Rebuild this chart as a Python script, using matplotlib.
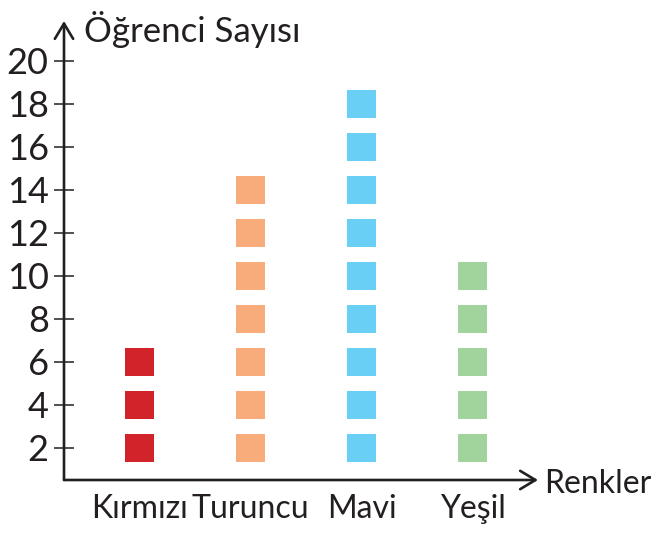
import matplotlib
matplotlib.use("Agg")
import matplotlib.pyplot as plt

categories = ["Kırmızı", "Turuncu", "Mavi", "Yeşil"]
counts = [6, 14, 18, 10]
colors = ["#d2232b", "#f8ac7c", "#69cff5", "#a0d49c"]
y_ticks = list(range(2, 21, 2))
step = 2  # each square stands for 2 students

plt.rcParams["font.family"] = ["Lato", "DejaVu Sans"]
ink = "#231f20"

fig = plt.figure(figsize=(6.55, 5.34), dpi=100)
ax = fig.add_axes([64 / 655, 1 - 480 / 534, (538 - 64) / 655, (480 - 21) / 534])

sq_w, sq_h = 0.26, 1.33
for i, (n, c) in enumerate(zip(counts, colors)):
    levels = list(range(step, n + 1, step))
    ax.bar([i] * len(levels), [sq_h] * len(levels),
           bottom=[v - sq_h / 2 for v in levels], width=sq_w, color=c, linewidth=0)

ax.set_xlim(-0.68, 3.59)
ax.set_ylim(0.51, 21.86)

for s in ax.spines.values():
    s.set_visible(False)

arrow = dict(arrowstyle="->,head_length=0.5,head_width=0.3", lw=1.9, color=ink,
             shrinkA=0, shrinkB=0, mutation_scale=22)
ax.annotate("", xy=(0, 1), xytext=(0, 0), xycoords="axes fraction", arrowprops=arrow)
ax.annotate("", xy=(1, 0), xytext=(0, 0), xycoords="axes fraction", arrowprops=arrow)

ax.set_yticks(y_ticks)
ax.tick_params(axis="y", direction="inout", length=14, width=1.1, color=ink,
               labelsize=26, labelcolor=ink, pad=4)
ax.set_xticks(range(len(categories)))
ax.set_xticklabels(categories)
ax.tick_params(axis="x", length=0, labelsize=23, labelcolor=ink, pad=10)

fig.text(84 / 655, 1 - 30 / 534, "Öğrenci Sayısı", fontsize=25, color=ink, va="center")
fig.text(544 / 655, 1 - 484 / 534, "Renkler", fontsize=23, color=ink, va="center")

fig.savefig("out.png", dpi=100)
